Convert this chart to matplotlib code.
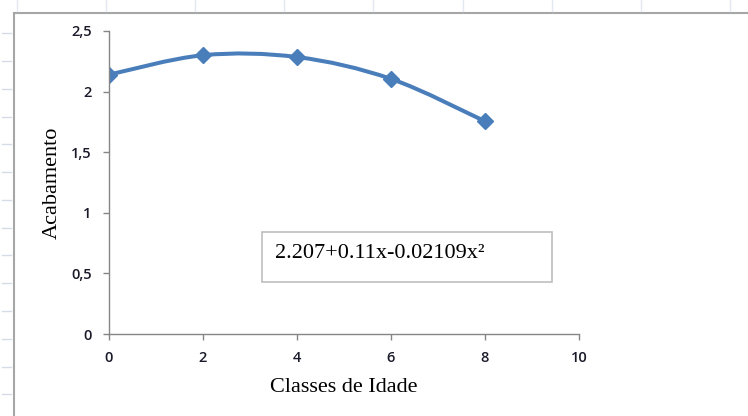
import numpy as np
import matplotlib
matplotlib.use("Agg")
from matplotlib import pyplot as plt
from matplotlib.path import Path
from matplotlib.patches import PathPatch, Rectangle
from matplotlib.lines import Line2D

# data
classes = [0, 2, 4, 6, 8]
acabamento = [2.14, 2.30, 2.285, 2.105, 1.755]
equation = "2.207+0.11x-0.02109x²"
x_ticks = [0, 2, 4, 6, 8, 10]
y_ticks = [0, 0.5, 1, 1.5, 2, 2.5]
y_tick_labels = ["0", "0,5", "1", "1,5", "2", "2,5"]

line_color = "#4A7EBB"
axis_color = "#868686"


def smooth_path(xs, ys):
    # Excel-like smoothed line: cubic bezier through the points
    pts = np.column_stack([xs, ys]).astype(float)
    n = len(pts)
    verts = [pts[0]]
    codes = [Path.MOVETO]
    for i in range(n - 1):
        p0 = pts[i - 1] if i > 0 else pts[i]
        p1 = pts[i]
        p2 = pts[i + 1]
        p3 = pts[i + 2] if i + 2 < n else pts[i + 1]
        c1 = p1 + (p2 - p0) / 6.0
        c2 = p2 - (p3 - p1) / 6.0
        verts += [c1, c2, p2]
        codes += [Path.CURVE4] * 3
    return Path(verts, codes)


fig = plt.figure(figsize=(7.48, 4.16), dpi=100)
W, H = 748, 416

ax = fig.add_axes([109 / W, 1 - 334 / H, (579 - 109) / W, (334 - 31) / H])

ax.add_patch(PathPatch(smooth_path(classes, acabamento), facecolor="none",
                       edgecolor=line_color, linewidth=2.9, capstyle="round",
                       joinstyle="round"))
ax.plot(classes, acabamento, linestyle="none", marker="D", markersize=8,
        color=line_color, markeredgecolor=line_color)

ax.set_xlim(0, 10)
ax.set_ylim(0, 2.5)
ax.set_xticks(x_ticks)
ax.set_yticks(y_ticks)
ax.set_yticklabels(y_tick_labels)

for side in ["top", "right"]:
    ax.spines[side].set_visible(False)
for side in ["left", "bottom"]:
    ax.spines[side].set_color(axis_color)
    ax.spines[side].set_linewidth(1.0)

ax.tick_params(axis="both", direction="out", length=4.5, width=1.0,
               color=axis_color, labelsize=10.5, labelcolor="#1A1A2A")
ax.tick_params(axis="x", pad=8)
ax.tick_params(axis="y", pad=8)
for lab in ax.get_xticklabels() + ax.get_yticklabels():
    lab.set_family("Open Sans")
    lab.set_weight("semibold")

ax.set_xlabel("Classes de Idade", family="Liberation Serif", fontsize=16)
ax.set_ylabel("Acabamento", family="Liberation Serif", fontsize=16)
ax.xaxis.label.set_va("center")
ax.yaxis.label.set_va("center")
ax.xaxis.set_label_coords(0.5, (334 - 388) / 303)
ax.yaxis.set_label_coords((52 - 109) / 470, 0.5)

# equation text box
fig.patches.append(Rectangle((262 / W, 1 - 282 / H), 290 / W, 50 / H,
                             transform=fig.transFigure, facecolor="white",
                             edgecolor="#BFBFBF", linewidth=1.2))
fig.text(275 / W, 1 - 258 / H, equation, family="Liberation Serif",
         fontsize=16, ha="left", va="baseline")

# chart area frame and sheet grid marks
frame = "#A6A6A6"
fig.lines.append(Line2D([14 / W, 1], [1 - 13 / H, 1 - 13 / H],
                        transform=fig.transFigure, color=frame, linewidth=1.5))
fig.lines.append(Line2D([14 / W, 14 / W], [0, 1 - 13 / H],
                        transform=fig.transFigure, color=frame, linewidth=1.5))
for k in range(9):
    px = 17 + 89.1 * k
    fig.lines.append(Line2D([px / W, px / W], [1, 1 - 11 / H],
                            transform=fig.transFigure, color="#E2E7F0",
                            linewidth=1.0))
for k in range(14):
    py = 33.3 + 27.77 * k
    fig.lines.append(Line2D([2 / W, 11 / W], [1 - py / H, 1 - py / H],
                            transform=fig.transFigure, color="#D5DCE8",
                            linewidth=1.0))

fig.savefig("out.png", dpi=100)
